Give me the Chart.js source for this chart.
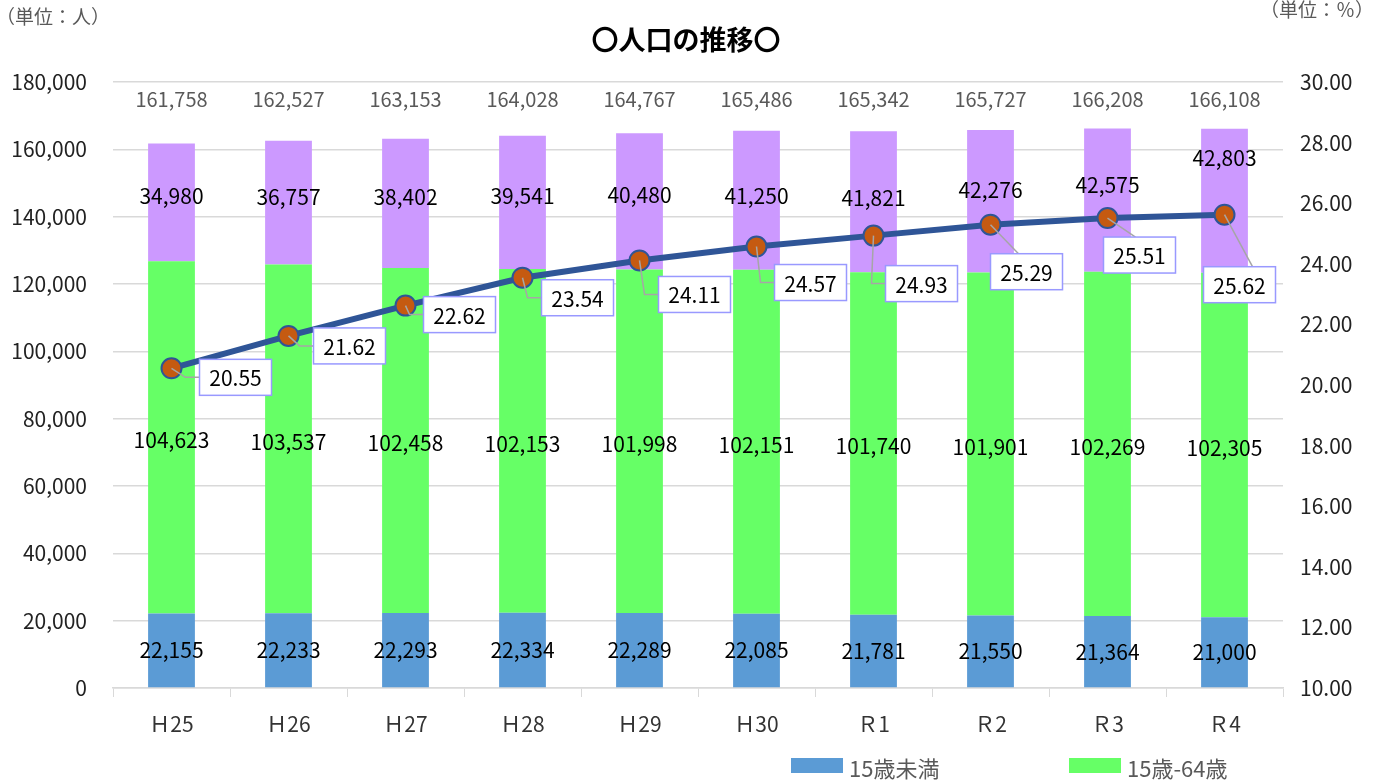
<!DOCTYPE html>
<html lang="ja">
<head>
<meta charset="utf-8">
<script src="https://cdn.jsdelivr.net/npm/chart.js@4/dist/chart.umd.min.js"></script>
<style>
  html, body { margin: 0; padding: 0; background: #fff; }
  #wrap { width: 1376px; height: 781px; position: relative; }
</style>
</head>
<body>
<div id="wrap"><canvas id="popChart"></canvas></div>
<script>
// Data
const categories = ['Ｈ25', 'Ｈ26', 'Ｈ27', 'Ｈ28', 'Ｈ29', 'Ｈ30', 'Ｒ1', 'Ｒ2', 'Ｒ3', 'Ｒ4'];
const under15 = [22155, 22233, 22293, 22334, 22289, 22085, 21781, 21550, 21364, 21000];
const age15to64 = [104623, 103537, 102458, 102153, 101998, 102151, 101740, 101901, 102269, 102305];
const over65 = [34980, 36757, 38402, 39541, 40480, 41250, 41821, 42276, 42575, 42803];
const agingRate = [20.55, 21.62, 22.62, 23.54, 24.11, 24.57, 24.93, 25.29, 25.51, 25.62];

// Label placement tweaks (pixels), like the hand-moved labels in the original
const over65LabelShift = [-6, -6, -6, -6, -6, -4, -4, -11, -15, -43];
const rateBoxOffset = [[28, 9], [25, 10], [18, 9], [19, 20], [19, 34], [18, 36], [12, 48], [0, 47], [-4, 37], [-21, 70]];

const FONT = "'Noto Sans CJK JP', 'Noto Sans', sans-serif";
const fmt = n => n.toLocaleString('en-US');

// Draw title, units, totals, data labels and legend
const overlayPlugin = {
    id: 'overlay',
    afterDatasetsDraw(chart) {
        const ctx = chart.ctx;
        ctx.save();

        // title and units
        ctx.fillStyle = '#000';
        ctx.font = 'bold 27px ' + FONT;
        ctx.textAlign = 'center';
        ctx.textBaseline = 'middle';
        ctx.fillText('〇人口の推移〇', 686, 40);

        ctx.fillStyle = '#595959';
        ctx.font = '19px ' + FONT;
        ctx.textAlign = 'left';
        ctx.fillText('（単位：人）', -4, 17);
        ctx.textAlign = 'right';
        ctx.fillText('（単位：％）', 1374, 10);

        // bar value labels
        ctx.textAlign = 'center';
        ctx.fillStyle = '#000';
        ctx.font = '21px ' + FONT;
        [0, 1, 2].forEach(d => {
            const meta = chart.getDatasetMeta(d);
            const values = chart.data.datasets[d].data;
            meta.data.forEach((bar, i) => {
                let y = (bar.y + bar.base) / 2;
                if (d === 1) y += 3;
                if (d === 2) y += over65LabelShift[i];
                ctx.fillText(fmt(values[i]), bar.x, y);
            });
        });

        // totals row above the plot
        ctx.fillStyle = '#595959';
        ctx.font = '20px ' + FONT;
        const xScale = chart.scales.x;
        categories.forEach((c, i) => {
            const total = under15[i] + age15to64[i] + over65[i];
            ctx.fillText(fmt(total), xScale.getPixelForValue(i), 99);
        });

        // line labels with leader lines
        const lineMeta = chart.getDatasetMeta(3);
        const bw = 72, bh = 36;
        lineMeta.data.forEach((pt, i) => {
            const left = pt.x + rateBoxOffset[i][0];
            const cy = pt.y + rateBoxOffset[i][1];
            const top = cy - bh / 2;
            let ex, ey;
            if (rateBoxOffset[i][0] > 8) { ex = left; ey = cy; }
            else { ex = pt.x + 28; ey = top; }
            ctx.strokeStyle = '#A6A6A6';
            ctx.lineWidth = 1.5;
            ctx.beginPath();
            ctx.moveTo(pt.x, pt.y);
            if (rateBoxOffset[i][0] > 8) ctx.lineTo(left - 14, cy);
            ctx.lineTo(ex, ey);
            ctx.stroke();

            ctx.fillStyle = '#fff';
            ctx.fillRect(left, top, bw, bh);
            ctx.strokeStyle = '#9999FF';
            ctx.lineWidth = 1.5;
            ctx.strokeRect(left, top, bw, bh);
            ctx.fillStyle = '#000';
            ctx.font = '21px ' + FONT;
            ctx.fillText(agingRate[i].toFixed(2), left + bw / 2, cy + 1);
        });

        // legend (only the part visible in the original)
        ctx.textAlign = 'left';
        ctx.font = '22px ' + FONT;
        [[0, 791], [1, 1069]].forEach(([d, x]) => {
            ctx.fillStyle = chart.data.datasets[d].backgroundColor;
            ctx.fillRect(x, 758, 52, 15);
            ctx.fillStyle = '#595959';
            ctx.fillText(chart.data.datasets[d].label, x + 58, 769);
        });

        ctx.restore();
    }
};

const ctx = document.getElementById('popChart').getContext('2d');
new Chart(ctx, {
    type: 'bar',
    data: {
        labels: categories,
        datasets: [
            { label: '15歳未満', data: under15, backgroundColor: '#5B9BD5', stack: 'pop', yAxisID: 'y', order: 1, barPercentage: 0.4, categoryPercentage: 1 },
            { label: '15歳-64歳', data: age15to64, backgroundColor: '#66FF66', stack: 'pop', yAxisID: 'y', order: 1, barPercentage: 0.4, categoryPercentage: 1 },
            { label: '65歳以上', data: over65, backgroundColor: '#CC99FF', stack: 'pop', yAxisID: 'y', order: 1, barPercentage: 0.4, categoryPercentage: 1 },
            {
                label: '高齢化率', type: 'line', data: agingRate, yAxisID: 'y1', order: 0,
                borderColor: '#2F5597', borderWidth: 6, tension: 0,
                pointRadius: 10, pointBackgroundColor: '#C55A11', pointBorderColor: '#2F5597', pointBorderWidth: 2
            }
        ]
    },
    options: {
        responsive: true,
        maintainAspectRatio: false,
        animation: false,
        layout: { padding: { top: 82, left: 0, right: 0, bottom: 0 } },
        plugins: {
            legend: { display: false },
            title: { display: false },
            tooltip: { enabled: false }
        },
        scales: {
            x: {
                stacked: true,
                grid: { drawOnChartArea: false, drawTicks: true, tickLength: 9, color: '#D9D9D9', offset: true },
                border: { color: '#D9D9D9', width: 1.5 },
                ticks: { color: '#333', font: { family: FONT, size: 21 }, padding: 14 },
                afterFit: s => { s.height = 93; }
            },
            y: {
                stacked: true,
                position: 'left',
                min: 0, max: 180000,
                ticks: { stepSize: 20000, color: '#222', font: { family: FONT, size: 21 }, padding: 26, callback: v => fmt(v) },
                grid: { color: '#D9D9D9', lineWidth: 1.5, drawTicks: false },
                border: { display: false },
                afterFit: s => { s.width = 113; }
            },
            y1: {
                position: 'right',
                min: 10, max: 30,
                ticks: { stepSize: 2, color: '#222', font: { family: FONT, size: 21 }, padding: 17, callback: v => v.toFixed(2) },
                grid: { drawOnChartArea: false, drawTicks: false },
                border: { display: false },
                afterFit: s => { s.width = 93; }
            }
        }
    },
    plugins: [overlayPlugin]
});
</script>
</body>
</html>
